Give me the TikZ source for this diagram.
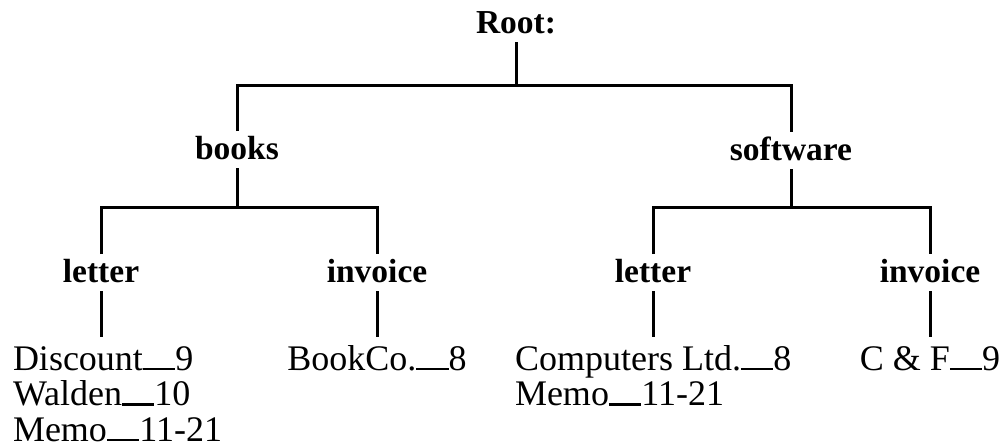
\documentclass[tikz,border=0pt]{standalone}
\usepackage{fontspec}
\setmainfont{Liberation Serif}
\newcommand\dashln{\rule[-0.01em]{0.9em}{0.07em}}
\newcommand\firstht{\rule{0pt}{33pt}}
\begin{document}
\begin{tikzpicture}[x=1pt,y=-1pt,
  lab/.style={font=\fontsize{33.5}{36}\selectfont\bfseries, inner sep=0pt, outer sep=0pt,
              text height=28pt, text depth=9pt, anchor=base},
  leaf/.style={font=\fontsize{36}{35.5}\selectfont, inner sep=0pt, outer sep=0pt, align=left},
  con/.style={line width=3pt, line join=miter}]
\useasboundingbox (0,0) rectangle (999,445);
% labels
\node[lab] (root) at (516,33) {Root:};
\node[lab] (books) at (237,159) {books};
\node[lab] (soft) at (791,160) {software};
\node[lab] (l1) at (101,282) {letter};
\node[lab] (i1) at (377,282) {invoice};
\node[lab] (l2) at (653,282) {letter};
\node[lab] (i2) at (930,282) {invoice};
% leaves
\node[leaf, anchor=north west] (d1) at (13,337) {\firstht Discount\dashln 9\\Walden\dashln 10\\Memo\dashln 11-21};
\node[leaf, anchor=north] (d2) at (377,337) {\firstht BookCo.\dashln 8};
\node[leaf, anchor=north west] (d3) at (515,337) {\firstht Computers Ltd.\dashln 8\\Memo\dashln 11-21};
\node[leaf, anchor=north] (d4) at (930,337) {\firstht C \& F\dashln 9};
% junctions
\coordinate (j0) at (516,85);
\coordinate (jb) at (237,207);
\coordinate (js) at (791,207);
% connectors
\draw[con] (root.south) -- (j0);
\draw[con] (books.north) |- (j0) -| (soft.north);
\draw[con] (books.south) -- (jb);
\draw[con] (l1.north) |- (jb) -| (i1.north);
\draw[con] (soft.south) -- (js);
\draw[con] (l2.north) |- (js) -| (i2.north);
\draw[con] (l1.south) -- (l1.south |- d1.north);
\draw[con] (i1.south) -- (d2.north);
\draw[con] (l2.south) -- (l2.south |- d3.north);
\draw[con] (i2.south) -- (d4.north);
\end{tikzpicture}
\end{document}
